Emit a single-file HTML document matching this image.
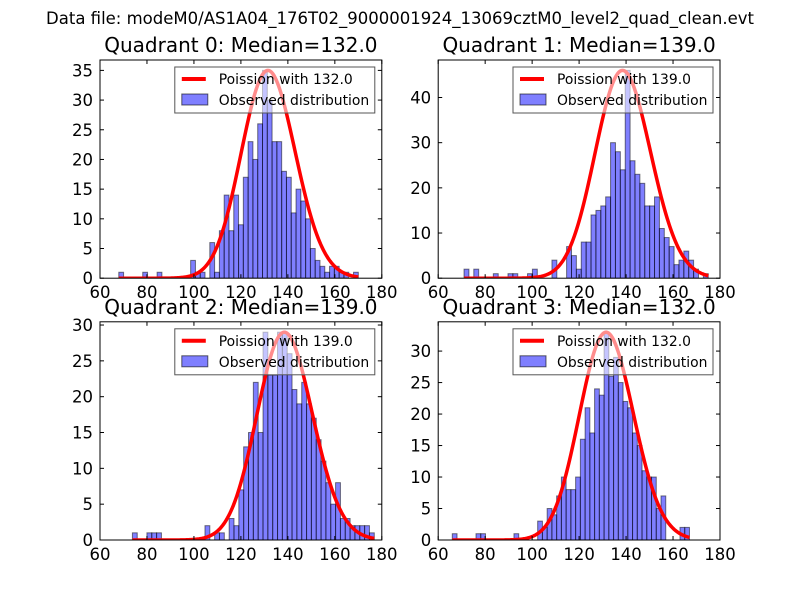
<!DOCTYPE html>
<html><head><meta charset="utf-8"><style>
body{margin:0;background:#fff}
svg{display:block;font-family:"DejaVu Sans","Liberation Sans",sans-serif}
</style></head><body>
<svg id="fig" width="800" height="600" viewBox="0 0 800 600" xmlns="http://www.w3.org/2000/svg">
<rect width="800" height="600" fill="#fff"/>
<text x="400" y="24" text-anchor="middle" font-size="16.5">Data file: modeM0/AS1A04_176T02_9000001924_13069cztM0_level2_quad_clean.evt</text>
</svg>
<script>
const quadNames = ["Quadrant 0","Quadrant 1","Quadrant 2","Quadrant 3"];
const medians = [132.0, 139.0, 139.0, 132.0];
const binStarts = [68, 71, 73.8, 66];
const binWidths = [2.04, 2.08, 2.06, 2.02];
const counts0 = [1,0,0,0,0,1,0,0,1,0, 0,0,0,0,0,3,1,1,0,6, 1,8,14,8,14,9,17,23,20,26, 35,30,23,23,18,17,11,15,13,10, 5,3,2,1,2,2,1,1,0,1];
const counts1 = [2,0,2,0,0,0,1,0,0,1, 1,0,0,1,2,0,0,0,4,0, 0,7,5,2,8,8,14,15,16,18, 30,28,24,46,26,23,21,16,16,18, 11,9,7,3,4,6,4,2,0,1];
const counts2 = [1,0,0,1,1,1,0,0,0,0, 0,0,0,0,0,2,0,1,1,0, 3,2,7,13,15,22,15,29,23,23, 29,29,26,21,19,22,19,17,14,11, 8,5,8,3,3,2,2,2,2,1];
const counts3 = [1,0,0,0,0,1,1,0,0,0, 0,0,0,1,0,0,0,0,3,2, 5,4,7,10,8,8,10,16,21,17, 24,23,33,26,29,25,22,21,17,15, 11,10,10,5,7,0,0,0,2,2];
const xTicks = [60,80,100,120,140,160,180];
const yTicks0 = [0,5,10,15,20,25,30,35];
const yTicks1 = [0,10,20,30,40];
const yTicks2 = [0,5,10,15,20,25,30];
const yTicks3 = [0,5,10,15,20,25,30];

const allCounts=[counts0,counts1,counts2,counts3];
const allYTicks=[yTicks0,yTicks1,yTicks2,yTicks3];
const NS="http://www.w3.org/2000/svg";
const svg=document.getElementById('fig');
function mk(tag,attrs,parent){const e=document.createElementNS(NS,tag);for(const k in attrs)e.setAttribute(k,attrs[k]);(parent||svg).appendChild(e);return e;}
function lgamma(z){ // Stirling series
  let s=0; while(z<7){s-=Math.log(z);z+=1;}
  return s+(z-0.5)*Math.log(z)-z+0.5*Math.log(2*Math.PI)+1/(12*z)-1/(360*z*z*z);
}
const boxes=[[100,60,381.8,278.2],[438.2,60,720,278.2],[100,321.8,381.8,540],[438.2,321.8,720,540]];
for(let q=0;q<4;q++){
  const [L,T,R,B]=boxes[q];
  const counts=allCounts[q], mu=medians[q], x0=binStarts[q], w=binWidths[q];
  const maxC=Math.max(...counts);
  const ymax=maxC*1.05;
  const sx=v=>L+(v-60)/120*(R-L);
  const sy=v=>B-v/ymax*(B-T);
  const g=mk('g',{});
  
  
  const t=mk('text',{x:(L+R)/2,y:T-8,'text-anchor':'middle','font-size':20},g);
  t.textContent=quadNames[q]+': Median='+mu.toFixed(1);
  
  
  const clipId='c'+q;
  const cp=mk('clipPath',{id:clipId},g); mk('rect',{x:L,y:T,width:R-L,height:B-T},cp);
  const plot=mk('g',{'clip-path':'url(#'+clipId+')'},g);
  counts.forEach((c,i)=>{
    if(c<=0)return;
    const a=x0+i*w;
    const r=mk('rect',{x:sx(a),y:sy(c),width:sx(a+w)-sx(a),height:sy(0)-sy(c),fill:'rgba(0,0,255,0.5)',stroke:'rgba(0,0,0,0.5)','stroke-width':1},plot);
    
    
  });
  // poisson curve scaled to hist max
  const lp=k=>k*Math.log(mu)-mu-lgamma(k+1);
  let peak=-Infinity; for(let k=0;k<400;k+=0.05) peak=Math.max(peak,lp(k));
  const xe=x0+counts.length*w;
  let d='';
  for(let k=x0;k<=xe;k+=0.5){const v=maxC*Math.exp(lp(k)-peak);d+=(d?'L':'M')+sx(k).toFixed(2)+' '+sy(v).toFixed(2);}
  const p=mk('path',{d:d,fill:'none',stroke:'#f00','stroke-width':3.5},plot);
  
  
  // frame
  mk('rect',{x:L,y:T,width:R-L,height:B-T,fill:'none',stroke:'#000','stroke-width':1},g);
  xTicks.forEach(v=>{
    const x=sx(v);
    mk('line',{x1:x,x2:x,y1:B,y2:B-4,stroke:'#000'},g);
    mk('line',{x1:x,x2:x,y1:T,y2:T+4,stroke:'#000'},g);
    const tl=mk('text',{x:x,y:B+20,'text-anchor':'middle','font-size':16.5},g);
    tl.textContent=v;
    
    
  });
  allYTicks[q].forEach(v=>{
    const y=sy(v);
    mk('line',{x1:L,x2:L+4,y1:y,y2:y,stroke:'#000'},g);
    mk('line',{x1:R,x2:R-4,y1:y,y2:y,stroke:'#000'},g);
    const tl=mk('text',{x:L-7,y:y+6,'text-anchor':'end','font-size':16.5},g);
    tl.textContent=v;
    
    
  });
  // legend
  const lg=mk('g',{},g);
  
  
  const lx=R-207, ly=T+7;
  mk('rect',{x:lx,y:ly,width:200,height:46,fill:'rgba(255,255,255,0.55)',stroke:'#555','stroke-width':1},lg);
  mk('line',{x1:lx+7,x2:lx+31,y1:ly+12,y2:ly+12,stroke:'#f00','stroke-width':4},lg);
  const t1=mk('text',{x:lx+44,y:ly+17,'font-size':13.9},lg); t1.textContent='Poission with '+mu.toFixed(1);
  
  
  mk('rect',{x:lx+7,y:ly+27,width:26,height:11,fill:'rgba(0,0,255,0.5)',stroke:'rgba(0,0,0,0.6)'},lg);
  const t2=mk('text',{x:lx+44,y:ly+38,'font-size':13.9},lg); t2.textContent='Observed distribution';
  
  
}
</script>
</body></html>
